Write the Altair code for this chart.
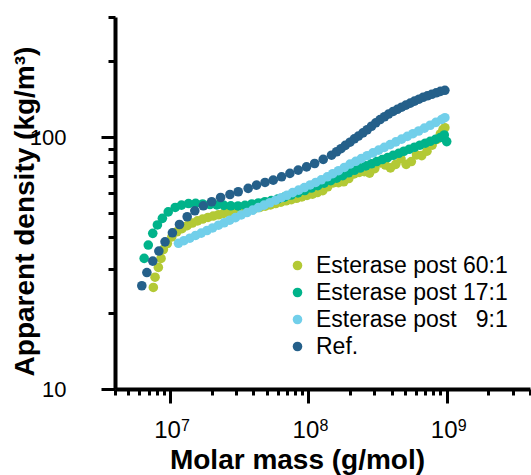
import altair as alt
import pandas as pd

# ---- data ----
series_names = ["Esterase post 60:1", "Esterase post 17:1", "Esterase post \u20079:1", "Ref."]
series_colors = ["#b3c935", "#00b38a", "#71cfea", "#25608a"]

mass_60 = [7.57e6, 7.79e6, 8.23e6, 8.61e6, 8.95e6, 9.56e6, 1.03e7, 1.12e7, 1.22e7, 1.33e7,
           1.45e7, 1.58e7, 1.72e7, 1.88e7, 2.05e7, 2.24e7, 2.44e7, 2.66e7, 2.9e7, 3.16e7,
           3.45e7, 3.76e7, 4.1e7, 4.47e7, 4.88e7, 5.32e7, 5.8e7, 6.33e7, 6.9e7, 7.53e7,
           8.21e7, 8.96e7, 9.77e7, 1.07e8, 1.16e8, 1.27e8, 1.38e8, 1.51e8, 1.65e8, 1.8e8,
           1.96e8, 2.14e8, 2.33e8, 2.54e8, 2.77e8, 3.02e8, 3.3e8, 3.6e8, 3.92e8, 4.28e8,
           4.67e8, 5.09e8, 5.55e8, 6.05e8, 6.6e8, 7.2e8, 7.85e8, 8.5e8, 9.0e8, 9.4e8, 9.7e8]
dens_60 = [25.3, 27.8, 30.4, 33.0, 35.8, 37.8, 40.2, 42.1, 43.3, 44.5,
           45.6, 46.5, 47.3, 48.0, 48.6, 49.2, 49.8, 50.4, 50.8, 51.2,
           51.5, 51.8, 52.2, 52.6, 53.2, 53.8, 54.5, 55.2, 55.9, 56.5,
           57.2, 57.9, 58.7, 59.4, 60.3, 61.3, 63.5, 65.8, 66.0, 66.5,
           68.5, 71.5, 72.5, 73.0, 72.0, 75.0, 79.0, 77.5, 75.5, 78.0,
           82.0, 78.0, 80.0, 85.0, 84.5, 88.0, 93.0, 98.0, 103.0, 107.0, 109.0]

mass_17 = [6.5e6, 6.96e6, 7.5e6, 8.1e6, 8.8e6, 9.7e6, 1.09e7, 1.21e7, 1.36e7, 1.53e7,
           1.72e7, 1.94e7, 2.18e7, 2.45e7, 2.75e7, 3.1e7, 3.48e7, 3.9e7, 4.35e7, 4.85e7,
           5.4e7, 6.0e7, 6.7e7, 7.5e7, 8.4e7, 9.4e7, 1.05e8, 1.17e8, 1.3e8, 1.45e8,
           1.6e8, 1.77e8, 1.95e8, 2.15e8, 2.37e8, 2.6e8, 2.85e8, 3.12e8, 3.42e8, 3.74e8,
           4.1e8, 4.5e8, 4.9e8, 5.35e8, 5.85e8, 6.4e8, 7.0e8, 7.6e8, 8.3e8, 9.0e8, 9.6e8, 1.0e9]
dens_17 = [33.0, 37.3, 41.5, 44.8, 47.6, 50.5, 52.6, 53.7, 54.5, 54.6,
           54.3, 54.0, 53.8, 53.6, 53.4, 53.3, 53.6, 54.3, 54.8, 55.4,
           56.0, 56.8, 57.8, 58.9, 60.1, 61.4, 62.8, 64.2, 65.7, 67.2,
           68.7, 70.3, 72.2, 73.9, 75.4, 76.9, 78.4, 80.0, 81.5, 83.0,
           84.7, 86.3, 87.9, 89.5, 91.2, 92.9, 94.6, 96.3, 98.0, 99.7, 102.0, 96.0]

mass_9 = [1.15e7, 1.26e7, 1.39e7, 1.53e7, 1.68e7, 1.85e7, 2.03e7, 2.24e7, 2.46e7, 2.7e7,
          2.97e7, 3.27e7, 3.6e7, 3.96e7, 4.35e7, 4.79e7, 5.27e7, 5.8e7, 6.37e7, 7.0e7,
          7.7e7, 8.5e7, 9.35e7, 1.03e8, 1.13e8, 1.24e8, 1.37e8, 1.5e8, 1.65e8, 1.82e8,
          2.0e8, 2.2e8, 2.42e8, 2.66e8, 2.93e8, 3.22e8, 3.54e8, 3.9e8, 4.29e8, 4.72e8,
          5.19e8, 5.7e8, 6.27e8, 6.9e8, 7.6e8, 8.35e8, 9.2e8, 9.7e8]
dens_9 = [37.9, 38.8, 39.7, 40.7, 41.6, 42.6, 43.6, 44.7, 45.7, 46.8,
          47.9, 49.1, 50.2, 51.3, 52.5, 53.7, 54.9, 56.2, 57.5, 58.8,
          60.2, 61.6, 63.1, 64.6, 66.1, 67.7, 69.6, 71.6, 73.6, 75.8,
          78.2, 80.2, 82.3, 84.4, 86.6, 88.8, 91.1, 93.4, 95.8, 98.2,
          100.7, 103.2, 105.8, 108.6, 111.5, 114.5, 117.6, 119.5]

mass_ref = [6.25e6, 6.8e6, 7.5e6, 8.3e6, 9.2e6, 1.04e7, 1.17e7, 1.33e7, 1.51e7, 1.74e7,
            2.0e7, 2.32e7, 2.71e7, 3.11e7, 3.67e7, 4.22e7, 4.86e7, 5.57e7, 6.4e7, 7.35e7,
            8.44e7, 9.7e7, 1.11e8, 1.28e8, 1.47e8, 1.6e8, 1.72e8, 1.85e8, 2.0e8, 2.15e8,
            2.3e8, 2.48e8, 2.66e8, 2.86e8, 3.07e8, 3.3e8, 3.55e8, 3.8e8, 4.1e8, 4.4e8,
            4.72e8, 5.07e8, 5.45e8, 5.85e8, 6.3e8, 6.75e8, 7.25e8, 7.8e8, 8.4e8, 9.0e8, 9.7e8]
dens_ref = [25.7, 29.0, 32.2, 35.3, 38.4, 41.7, 45.0, 48.3, 51.0, 53.4,
            55.4, 57.6, 59.2, 60.7, 62.6, 64.5, 66.1, 67.5, 69.6, 71.8,
            74.0, 76.2, 78.6, 81.6, 84.8, 87.5, 90.0, 92.8, 95.5, 98.5,
            101.0, 104.0, 107.0, 110.5, 114.0, 117.5, 120.5, 123.5, 126.5, 129.0,
            131.5, 134.0, 136.5, 139.0, 141.5, 144.0, 146.0, 148.0, 150.0, 152.0, 153.5]

x_tick_values = [4e6, 5e6, 6e6, 7e6, 8e6, 9e6,
                 1e7, 2e7, 3e7, 4e7, 5e7, 6e7, 7e7, 8e7, 9e7,
                 1e8, 2e8, 3e8, 4e8, 5e8, 6e8, 7e8, 8e8, 9e8,
                 1e9, 2e9, 3e9, 4e9]
y_tick_values = [10, 20, 30, 40, 50, 60, 70, 80, 90, 100, 200, 300]

# exponents of the decade labels (10^7, 10^8, 10^9)
decade_mass = [1e7, 1e8, 1e9]
decade_exp = ["7", "8", "9"]

# ---- build tables ----
rows = []
for name, xs, ys in zip(series_names,
                        [mass_60, mass_17, mass_9, mass_ref],
                        [dens_60, dens_17, dens_9, dens_ref]):
    for xv, yv in zip(xs, ys):
        rows.append({"series": name, "mass": xv, "density": yv})
df = pd.DataFrame(rows)
df_exp = pd.DataFrame({"mass": decade_mass, "exp": decade_exp})

FONT = "Liberation Sans"
x_major_test = "abs(log(datum.value)/LN10 - round(log(datum.value)/LN10)) < 0.001"
y_major_test = "datum.value == 10 || datum.value == 100"

x_label_expr = ("abs(log(datum.value)/LN10 - 7) < 0.001 || "
                "abs(log(datum.value)/LN10 - 8) < 0.001 || "
                "abs(log(datum.value)/LN10 - 9) < 0.001 ? '10' : ''")
y_label_expr = "datum.value == 10 ? '10' : datum.value == 100 ? '100' : ''"

x_scale = alt.Scale(type="log", domain=[4e6, 4e9], nice=False)
y_scale = alt.Scale(type="log", domain=[10, 300], nice=False)

points = alt.Chart(df).mark_circle(size=92, opacity=1).encode(
    x=alt.X("mass:Q", scale=x_scale,
            axis=alt.Axis(values=x_tick_values, labelExpr=x_label_expr,
                          tickSize={"condition": {"test": x_major_test, "value": 14}, "value": 6},
                          tickWidth=3, tickColor="black", domainWidth=4, domainColor="black",
                          grid=False, labelOverlap=False, labelFlush=False, labelBound=False,
                          labelFont=FONT, labelFontSize=24, labelColor="black",
                          labelPadding=15, labelOffset=-3,
                          title="Molar mass (g/mol)", titleFont=FONT, titleFontSize=28,
                          titleFontWeight="bold", titleColor="black",
                          titleX=182, titleY=79, titleBaseline="alphabetic", titleAlign="center")),
    y=alt.Y("density:Q", scale=y_scale,
            axis=alt.Axis(values=y_tick_values, labelExpr=y_label_expr,
                          tickSize={"condition": {"test": y_major_test, "value": 14}, "value": 7},
                          tickWidth=3, tickColor="black", domainWidth=4, domainColor="black",
                          grid=False, labelOverlap=False, labelBound=False,
                          labelFont=FONT, labelFontSize=22, labelColor="black", labelPadding=35,
                          title="Apparent density (kg/m\u00b3)", titleFont=FONT, titleFontSize=28,
                          titleFontWeight="bold", titleColor="black",
                          titleX=-82, titleY=194, titleAngle=270,
                          titleBaseline="alphabetic", titleAlign="center")),
    color=alt.Color("series:N",
                    scale=alt.Scale(domain=series_names, range=series_colors),
                    legend=alt.Legend(title=None, orient="none", legendX=171, legendY=237,
                                      padding=0, labelFont=FONT, labelFontSize=23,
                                      labelColor="black", labelOffset=7, labelLimit=0,
                                      symbolType="circle", symbolSize=92,
                                      symbolOpacity=1, symbolStrokeWidth=0,
                                      rowPadding=3)),
)

exponents = alt.Chart(df_exp).mark_text(
    font=FONT, fontSize=16, color="black", align="left", baseline="alphabetic", dx=11
).encode(
    x=alt.X("mass:Q", scale=x_scale),
    y=alt.value(414),
    text="exp:N",
)

chart = alt.layer(points, exponents).properties(
    width=415, height=372,
    autosize="none",
    padding={"left": 115, "top": 17, "right": 1, "bottom": 86},
).configure_view(stroke=None)

chart.save("out.html", embed_options={"renderer": "svg", "actions": False})
